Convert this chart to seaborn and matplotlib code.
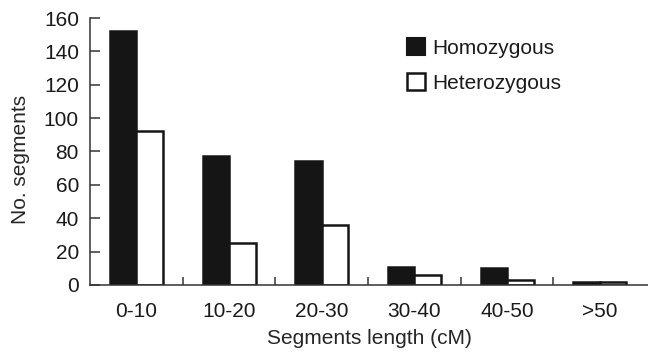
import pandas as pd
import matplotlib
matplotlib.use("Agg")
import matplotlib.pyplot as plt
import seaborn as sns
from matplotlib.patches import Patch

categories = ["0-10", "10-20", "20-30", "30-40", "40-50", ">50"]
homozygous = [152, 77, 74, 11, 10, 2]
heterozygous = [92, 25, 36, 6, 3, 2]

df = pd.DataFrame({
    "Length": categories * 2,
    "Count": homozygous + heterozygous,
    "Type": ["Homozygous"] * len(categories) + ["Heterozygous"] * len(categories),
})

sns.set_style("ticks")
plt.rcParams["font.family"] = ["Liberation Sans", "DejaVu Sans"]
plt.rcParams["font.size"] = 15
plt.rcParams["text.color"] = "#1a1a1a"

fig = plt.figure(figsize=(6.48, 3.53), dpi=100)
ax = fig.add_axes([0.139, 0.193, 0.861, 0.756])

sns.barplot(data=df, x="Length", y="Count", hue="Type",
            palette={"Homozygous": "#151515", "Heterozygous": "white"},
            width=0.57, edgecolor="#151515", linewidth=1.8,
            legend=False, ax=ax)

ax.set_xlim(-0.5, 5.52)
ax.set_ylim(0, 160)
ax.set_yticks(range(0, 161, 20))
ax.set_xticks(range(len(categories)))
ax.set_xticklabels(categories)
ax.set_xticks([i + 0.5 for i in range(5)], minor=True)
ax.tick_params(axis="x", which="major", length=0, pad=12, labelsize=15, labelcolor="#1a1a1a")
ax.tick_params(axis="x", which="minor", direction="in", length=6, width=1.1, color="#333333")
ax.tick_params(axis="y", direction="in", length=7, width=1.1, pad=8, labelsize=15,
               color="#333333", labelcolor="#1a1a1a")
ax.set_xlabel("Segments length (cM)", fontsize=15, labelpad=6)
ax.set_ylabel("No. segments", fontsize=15)
ax.yaxis.set_label_coords(-0.107, 0.47)
for s in ["top", "right"]:
    ax.spines[s].set_visible(False)
for s in ["left", "bottom"]:
    ax.spines[s].set_linewidth(1.1)
    ax.spines[s].set_color("#333333")

handles = [Patch(facecolor="#151515", edgecolor="#151515", linewidth=1.5),
           Patch(facecolor="white", edgecolor="#151515", linewidth=1.8)]
ax.legend(handles, ["Homozygous", "Heterozygous"], loc="upper left",
          bbox_to_anchor=(0.535, 0.995), frameon=False, fontsize=15,
          handlelength=0.85, handleheight=0.85, handletextpad=0.35,
          labelspacing=0.75)

fig.savefig("out.png", dpi=100)
